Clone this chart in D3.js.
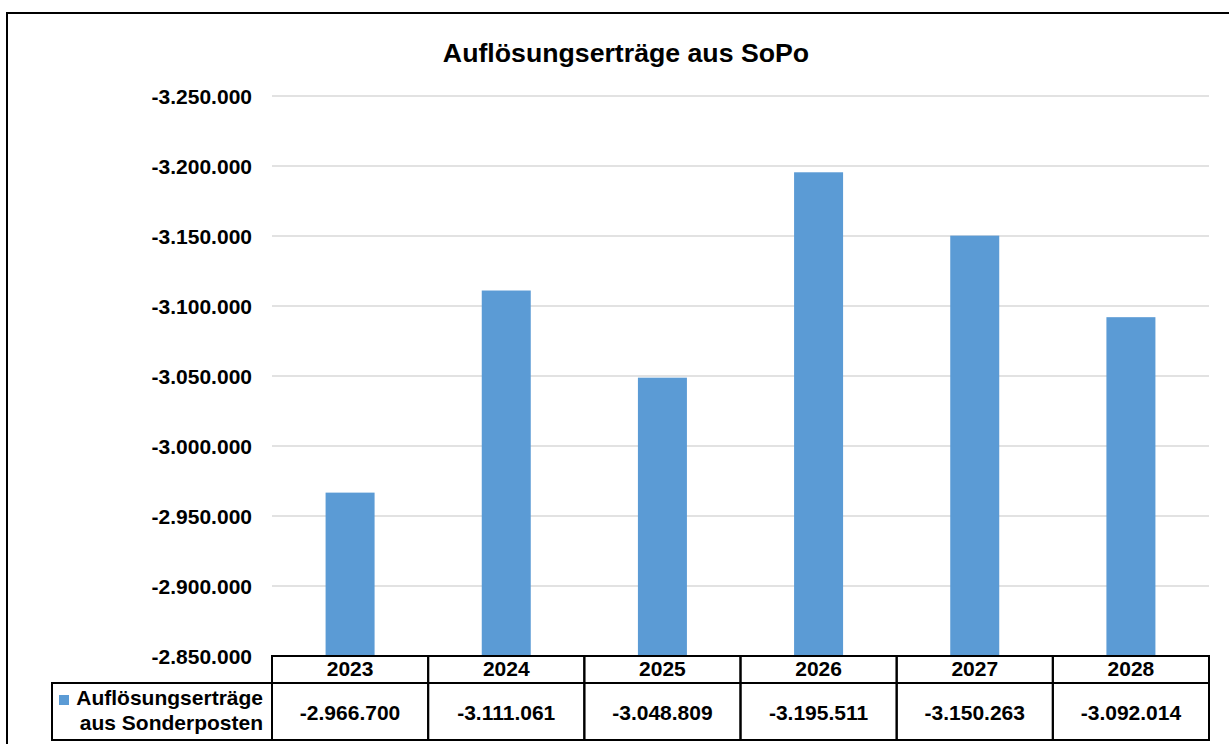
<!DOCTYPE html>
<html lang="de">
<head>
    <meta charset="UTF-8">
    <title>Auflösungserträge aus SoPo</title>
    <style>
        html, body {
            margin: 0px;
            padding: 0px;
            background-color: white;
            font-family: 'Liberation Sans', Arial, sans-serif;
        }
        text {
            font-weight: bold;
            fill: #000;
        }
        .grid line {
            stroke: #d9d9d9;
            stroke-width: 1.3px;
        }
        .cell {
            fill: none;
            stroke: #000;
            stroke-width: 2px;
        }
    </style>
</head>
<body>
    <div id="vis"></div>
    <script src="https://d3js.org/d3.v7.min.js"></script>
    <script>

        // chart data
        var years = ["2023", "2024", "2025", "2026", "2027", "2028"];
        var values = [-2966700, -3111061, -3048809, -3195511, -3150263, -3092014];
        var yTicks = [-2850000, -2900000, -2950000, -3000000, -3050000, -3100000, -3150000, -3200000, -3250000];
        var seriesName = ["Auflösungserträge", "aus Sonderposten"];
        var title = "Auflösungserträge aus SoPo";

        var width = 1229;
        var height = 744;

        var svg = d3.select("#vis")
            .append("svg")
            .attr("width", width)
            .attr("height", height);

        // outer frame (runs past the right and bottom edge)
        svg.append("rect")
            .attr("x", 7)
            .attr("y", 13)
            .attr("width", 1300)
            .attr("height", 800)
            .attr("fill", "none")
            .attr("stroke", "#000")
            .attr("stroke-width", 2);

        // German number format: 1.234.567
        var de = d3.formatLocale({decimal: ",", thousands: ".", grouping: [3], currency: ["", " €"], minus: "-"});
        var fmt = de.format(",d");

        var plotLeft = 272, plotRight = 1209;

        var x_scale = d3.scaleBand()
            .domain(years)
            .range([plotLeft, plotRight])
            .padding(0);

        // axis is reversed: more negative values go up
        var y_scale = d3.scaleLinear()
            .domain([-2850000, -3250000])
            .range([656, 96]);

        svg.append("text")
            .attr("x", 626)
            .attr("y", 62)
            .attr("text-anchor", "middle")
            .style("font-size", "26.7px")
            .text(title);

        // gridlines
        var grid = svg.append("g").attr("class", "grid");
        grid.selectAll("line")
            .data(yTicks.slice(1))
            .enter()
            .append("line")
            .attr("x1", plotLeft)
            .attr("x2", plotRight)
            .attr("y1", function(d){ return y_scale(d); })
            .attr("y2", function(d){ return y_scale(d); });

        // y tick labels
        svg.selectAll(".ylabel")
            .data(yTicks)
            .enter()
            .append("text")
            .attr("class", "ylabel")
            .attr("x", 252)
            .attr("y", function(d){ return y_scale(d) + 8; })
            .attr("text-anchor", "end")
            .style("font-size", "21px")
            .text(function(d){ return fmt(d); });

        // bars
        var barWidth = 49;
        svg.selectAll(".bar")
            .data(values)
            .enter()
            .append("rect")
            .attr("class", "bar")
            .attr("fill", "#5b9bd5")
            .attr("x", function(d, i){ return x_scale(years[i]) + x_scale.bandwidth() / 2 - barWidth / 2; })
            .attr("width", barWidth)
            .attr("y", function(d){ return y_scale(d); })
            .attr("height", function(d){ return y_scale(-2850000) - y_scale(d); });

        // data table
        var rowTop = 656, rowMid = 683, rowBottom = 740, legendLeft = 52;

        var table = svg.append("g");

        table.selectAll(".yearcell")
            .data(years)
            .enter()
            .append("rect")
            .attr("class", "cell")
            .attr("x", function(d){ return x_scale(d); })
            .attr("y", rowTop)
            .attr("width", x_scale.bandwidth())
            .attr("height", rowMid - rowTop);

        table.selectAll(".valcell")
            .data(years)
            .enter()
            .append("rect")
            .attr("class", "cell")
            .attr("x", function(d){ return x_scale(d); })
            .attr("y", rowMid)
            .attr("width", x_scale.bandwidth())
            .attr("height", rowBottom - rowMid);

        table.append("rect")
            .attr("class", "cell")
            .attr("x", legendLeft)
            .attr("y", rowMid)
            .attr("width", plotLeft - legendLeft)
            .attr("height", rowBottom - rowMid);

        table.selectAll(".yeartext")
            .data(years)
            .enter()
            .append("text")
            .attr("x", function(d){ return x_scale(d) + x_scale.bandwidth() / 2; })
            .attr("y", 676)
            .attr("text-anchor", "middle")
            .style("font-size", "21px")
            .text(function(d){ return d; });

        table.selectAll(".valtext")
            .data(values)
            .enter()
            .append("text")
            .attr("x", function(d, i){ return x_scale(years[i]) + x_scale.bandwidth() / 2; })
            .attr("y", 720)
            .attr("text-anchor", "middle")
            .style("font-size", "21px")
            .text(function(d){ return fmt(d); });

        // legend key + series name
        table.append("rect")
            .attr("x", 59)
            .attr("y", 695)
            .attr("width", 10)
            .attr("height", 10)
            .attr("fill", "#5b9bd5");

        table.selectAll(".legtext")
            .data(seriesName)
            .enter()
            .append("text")
            .attr("x", 263)
            .attr("y", function(d, i){ return 705 + i * 25; })
            .attr("text-anchor", "end")
            .style("font-size", "21px")
            .text(function(d){ return d; });

    </script>
</body>
</html>
